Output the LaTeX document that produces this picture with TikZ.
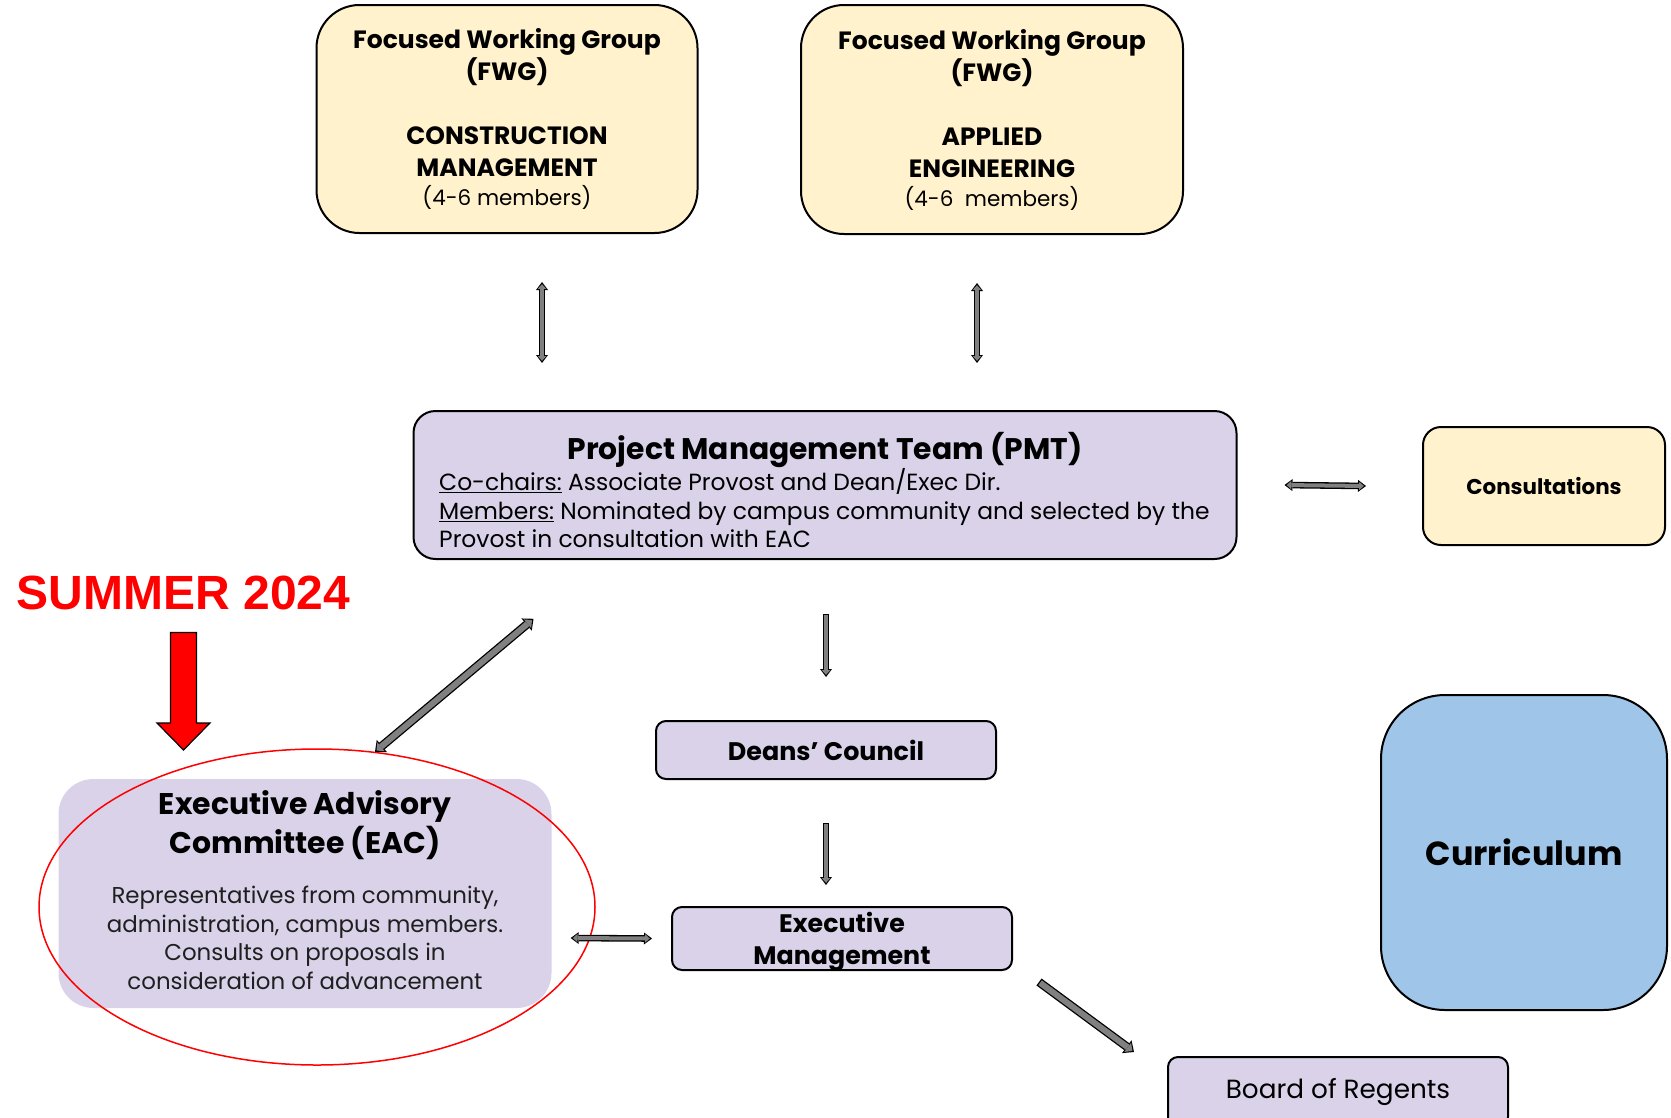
\documentclass[tikz,border=0pt]{standalone}
\usepackage{fontspec}
\setmainfont{Poppins}
\newfontfamily\summerfont{Liberation Sans}
\usetikzlibrary{arrows.meta,shapes.geometric}
\definecolor{fwgyellow}{HTML}{FFF2CC}
\definecolor{lav}{HTML}{D9D2E9}
\definecolor{curblue}{HTML}{9FC5E8}
\definecolor{arrgray}{HTML}{808080}
\definecolor{sumred}{HTML}{FF0000}
\tikzset{
  ybox/.style={draw=black, line width=2pt, fill=fwgyellow, rounded corners=#1, inner sep=0pt, align=center},
  lbox/.style={draw=black, line width=2pt, fill=lav, rounded corners=#1, inner sep=0pt, align=center},
  txt/.style={inner sep=0pt, align=center},
  % thin block arrows
  blkA/.style={draw=arrgray, line width=4pt, shorten >=2.2pt, shorten <=1.3pt,
     -{Triangle[width=8.4pt,length=4.6pt,line width=0pt]},
     preaction={draw=black, line width=6.6pt, shorten >=0pt, shorten <=0pt,
     -{Triangle[width=12pt,length=8pt,line width=0pt]}}},
  blkAA/.style={draw=arrgray, line width=4pt, shorten >=2.2pt, shorten <=2.2pt,
     {Triangle[width=8.4pt,length=4.6pt,line width=0pt]}-{Triangle[width=8.4pt,length=4.6pt,line width=0pt]},
     preaction={draw=black, line width=6.6pt, shorten >=0pt, shorten <=0pt,
     {Triangle[width=12pt,length=8pt,line width=0pt]}-{Triangle[width=12pt,length=8pt,line width=0pt]}}},
  % thick block arrows
  blkB/.style={draw=arrgray, line width=6pt, shorten >=2pt, shorten <=1.3pt,
     -{Triangle[width=11.5pt,length=5.8pt,line width=0pt]},
     preaction={draw=black, line width=8.6pt, shorten >=0pt, shorten <=0pt,
     -{Triangle[width=16pt,length=9pt,line width=0pt]}}},
  blkBB/.style={draw=arrgray, line width=6pt, shorten >=2pt, shorten <=2pt,
     {Triangle[width=11.5pt,length=5.8pt,line width=0pt]}-{Triangle[width=11.5pt,length=5.8pt,line width=0pt]},
     preaction={draw=black, line width=8.6pt, shorten >=0pt, shorten <=0pt,
     {Triangle[width=16pt,length=9pt,line width=0pt]}-{Triangle[width=16pt,length=9pt,line width=0pt]}}},
}
\newcommand\fwgfont{\fontsize{25}{32}\selectfont\bfseries}
\begin{document}
\begin{tikzpicture}[x=1pt,y=-1pt]
\useasboundingbox (0,0) rectangle (1671,1117);

% Focused working groups
\node[ybox=43pt, minimum width=381pt, minimum height=228pt, font=\fwgfont] (fwg1) at (507,119)
  {Focused Working Group\\(FWG)\\[32pt]CONSTRUCTION\\MANAGEMENT\\[-3pt]{\mdseries\fontsize{21.5}{28}\selectfont (4-6 members)}};
\node[ybox=43pt, minimum width=382pt, minimum height=229pt, font=\fwgfont] (fwg2) at (992,119.5)
  {Focused Working Group\\(FWG)\\[32pt]APPLIED\\ENGINEERING\\[-3pt]{\mdseries\fontsize{21.5}{28}\selectfont (4-6\ \ members)}};

% PMT
\node[lbox=22pt, minimum width=823pt, minimum height=148pt] (pmt) at (825,485) {};
\node[txt, font=\fontsize{29.8}{34}\selectfont\bfseries] (pmttitle) at (825,449.5) {Project Management Team (PMT)};
\node[txt, anchor=west, align=left, font=\fontsize{23.4}{28.5}\selectfont] (pmtbody) at (439,508.5)
  {\underline{Co-chairs:} Associate Provost and Dean/Exec Dir.\\
   \underline{Members:} Nominated by campus community and selected by the\\
   Provost in consultation with EAC};

% Consultations
\node[ybox=18pt, minimum width=242pt, minimum height=118pt, font=\fontsize{21.4}{26}\selectfont\bfseries] (cons) at (1544,486) {Consultations};

% Summer 2024 label and red arrow
\node[txt, text=sumred, font=\summerfont\fontsize{48}{56}\selectfont\bfseries] (summer) at (183.5,592.5) {SUMMER 2024};
\draw[draw=black, line width=1.2pt, fill=sumred, line join=miter]
  (170.5,632.5) -- (196.5,632.5) -- (196.5,723) -- (210,723) -- (183.5,750) -- (157,723) -- (170.5,723) -- cycle;

% EAC
\node[fill=lav, rounded corners=35pt, minimum width=493pt, minimum height=229pt, inner sep=0pt] (eac) at (305,893.5) {};
\node[txt, font=\fontsize{29.9}{38.5}\selectfont\bfseries] (eactitle) at (305,825) {Executive Advisory\\Committee (EAC)};
\node[txt, text=black!88, font=\fontsize{22.9}{28.5}\selectfont] (eacbody) at (305,938) {Representatives from community,\\administration, campus members.\\Consults on proposals in\\consideration of advancement};
\node[draw=sumred, line width=1.5pt, ellipse, minimum width=556pt, minimum height=316pt, inner sep=0pt] (ring) at (317,907) {};

% Deans, Exec, Board
\node[lbox=10pt, minimum width=340pt, minimum height=58pt, font=\fontsize{25.4}{28}\selectfont\bfseries] (deans) at (826,750) {Deans’ Council};
\node[lbox=10pt, minimum width=340pt, minimum height=63pt] (exec) at (842,938.5) {};
\node[txt, font=\fontsize{25.3}{32}\selectfont\bfseries] (exectxt) at (842,941.5) {Executive\\Management};
\node[lbox=10pt, minimum width=340pt, minimum height=70pt, font=\fontsize{26.3}{30}\selectfont] (board) at (1338,1092) {Board of Regents};

% Curriculum
\node[draw=black, line width=2pt, fill=curblue, rounded corners=64pt, minimum width=286pt, minimum height=315pt, inner sep=0pt, font=\fontsize{33.4}{40}\selectfont\bfseries] (curr) at (1524,852.5) {Curriculum};

% connectors
\draw[blkAA] ([xshift=35pt,yshift=-48pt]fwg1.south) -- ([xshift=-283pt,yshift=47pt]pmt.north);
\draw[blkAA] ([xshift=-15pt,yshift=-48pt]fwg2.south) -- ([xshift=152pt,yshift=47pt]pmt.north);
\draw[blkAA] ([xshift=47pt]pmt.east) -- ([xshift=-56pt]cons.west);
\draw[blkA] ([xshift=1pt,yshift=-54pt]pmt.south) -- ([yshift=43pt]deans.north);
\draw[blkA] ([yshift=-43pt]deans.south) -- ([xshift=-16pt,yshift=21pt]exec.north);
\draw[blkBB] ([xshift=228.5pt,yshift=160pt]eac.north) -- ([xshift=70pt,yshift=27pt]eac.north);
\draw[blkAA] ([xshift=19pt,yshift=-44.5pt]eac.east) -- ([xshift=-19pt]exec.west);
\draw[blkB] ([xshift=26pt,yshift=-11pt]exec.south east) -- ([xshift=-33pt,yshift=4pt]board.north west);
\end{tikzpicture}
\end{document}
